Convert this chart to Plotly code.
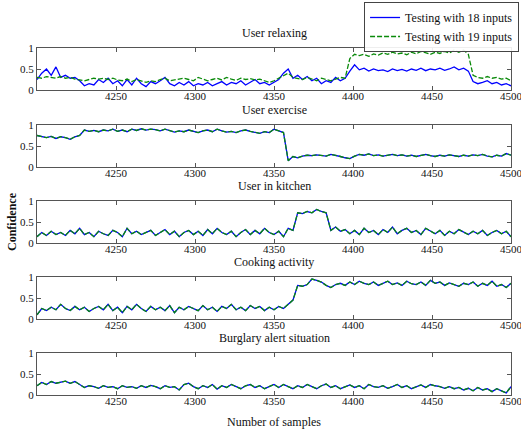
import plotly.graph_objects as go

# sample index (every 3rd sample)
samples = list(range(4200, 4501, 3))

panel_titles = ["User relaxing", "User exercise", "User in kitchen",
                "Cooking activity", "Burglary alert situation"]
x_ticks = [4250, 4300, 4350, 4400, 4450, 4500]
y_ticks = [0, 0.5, 1]
y_tick_text = ["0", "0.5", "1"]

relax_18 = [0.25, 0.40, 0.50, 0.35, 0.55, 0.30, 0.35, 0.28, 0.30, 0.22,
            0.10, 0.15, 0.12, 0.25, 0.18, 0.28, 0.15, 0.22, 0.10, 0.25,
            0.12, 0.28, 0.15, 0.08, 0.20, 0.15, 0.22, 0.30, 0.15, 0.10,
            0.18, 0.12, 0.20, 0.10, 0.15, 0.12, 0.18, 0.10, 0.15, 0.20,
            0.12, 0.18, 0.15, 0.22, 0.12, 0.18, 0.25, 0.15, 0.18, 0.12,
            0.18, 0.25, 0.40, 0.50, 0.28, 0.35, 0.25, 0.32, 0.22, 0.28,
            0.15, 0.22, 0.18, 0.30, 0.22, 0.28, 0.45, 0.60, 0.48, 0.52,
            0.45, 0.50, 0.46, 0.48, 0.44, 0.50, 0.46, 0.49, 0.45, 0.50,
            0.47, 0.52, 0.46, 0.50, 0.48, 0.52, 0.47, 0.50, 0.55, 0.48,
            0.52, 0.45, 0.20, 0.15, 0.18, 0.22, 0.15, 0.18, 0.12, 0.15,
            0.10]
relax_19 = [0.30, 0.28, 0.32, 0.30, 0.28, 0.32, 0.28, 0.30, 0.26, 0.24,
            0.22, 0.25, 0.28, 0.26, 0.28, 0.25, 0.28, 0.24, 0.22, 0.26,
            0.20, 0.25, 0.22, 0.18, 0.22, 0.20, 0.25, 0.28, 0.22, 0.24,
            0.26, 0.28, 0.25, 0.22, 0.30, 0.26, 0.22, 0.25, 0.28, 0.24,
            0.30, 0.26, 0.23, 0.28, 0.25, 0.27, 0.24, 0.26, 0.22, 0.18,
            0.22, 0.28, 0.35, 0.40, 0.30, 0.28, 0.25, 0.30, 0.26, 0.22,
            0.28, 0.25, 0.22, 0.26, 0.30, 0.28, 0.75, 0.85, 0.82, 0.85,
            0.80, 0.86, 0.83, 0.88, 0.85, 0.90, 0.86, 0.88, 0.84, 0.90,
            0.86, 0.92, 0.88, 0.85, 0.90, 0.87, 0.92, 0.88, 0.95, 0.90,
            0.95, 0.85, 0.35, 0.30, 0.28, 0.32, 0.28, 0.30, 0.26, 0.28,
            0.22]
exercise_vals = [0.75, 0.72, 0.70, 0.73, 0.68, 0.72, 0.70, 0.66, 0.72, 0.75,
                 0.88, 0.85, 0.87, 0.84, 0.88, 0.86, 0.90, 0.85, 0.88, 0.84,
                 0.90, 0.87, 0.91, 0.88, 0.90, 0.89, 0.86, 0.90, 0.87, 0.83,
                 0.86, 0.84, 0.88, 0.85, 0.82, 0.86, 0.88, 0.84, 0.90, 0.86,
                 0.83, 0.85, 0.82, 0.86, 0.88, 0.85, 0.82, 0.80, 0.84, 0.82,
                 0.90, 0.86, 0.82, 0.15, 0.25, 0.22, 0.26, 0.28, 0.27, 0.29,
                 0.28, 0.26, 0.30, 0.28, 0.25, 0.22, 0.20, 0.26, 0.30, 0.28,
                 0.31, 0.27, 0.29, 0.26, 0.28, 0.30, 0.27, 0.29, 0.26, 0.28,
                 0.25, 0.28, 0.30, 0.27, 0.25, 0.28, 0.26, 0.29, 0.27, 0.25,
                 0.28, 0.26, 0.29, 0.27, 0.30, 0.26, 0.24, 0.28, 0.26, 0.32,
                 0.28]
kitchen_vals = [0.15, 0.25, 0.18, 0.28, 0.20, 0.25, 0.18, 0.30, 0.22, 0.35,
                0.20, 0.25, 0.15, 0.28, 0.22, 0.18, 0.30, 0.25, 0.15, 0.35,
                0.22, 0.28, 0.20, 0.25, 0.30, 0.18, 0.25, 0.32, 0.20, 0.28,
                0.15, 0.25, 0.30, 0.20, 0.28, 0.18, 0.32, 0.22, 0.35, 0.25,
                0.20, 0.28, 0.15, 0.25, 0.32, 0.20, 0.30, 0.22, 0.35, 0.25,
                0.20, 0.28, 0.15, 0.35, 0.30, 0.72, 0.70, 0.75, 0.72, 0.80,
                0.75, 0.72, 0.30, 0.38, 0.28, 0.32, 0.22, 0.30, 0.20, 0.35,
                0.25, 0.30, 0.20, 0.32, 0.25, 0.38, 0.22, 0.30, 0.35, 0.25,
                0.30, 0.20, 0.35, 0.28, 0.22, 0.30, 0.18, 0.28, 0.22, 0.32,
                0.25, 0.20, 0.28, 0.22, 0.30, 0.18, 0.25, 0.30, 0.22, 0.28,
                0.15]
cooking_vals = [0.10, 0.25, 0.20, 0.28, 0.22, 0.35, 0.25, 0.20, 0.30, 0.22,
                0.28, 0.18, 0.25, 0.30, 0.22, 0.35, 0.20, 0.28, 0.15, 0.30,
                0.22, 0.35, 0.25, 0.18, 0.30, 0.22, 0.28, 0.20, 0.32, 0.15,
                0.28, 0.22, 0.30, 0.25, 0.20, 0.32, 0.22, 0.28, 0.18, 0.30,
                0.25, 0.35, 0.22, 0.28, 0.20, 0.32, 0.25, 0.30, 0.20, 0.28,
                0.22, 0.30, 0.25, 0.35, 0.45, 0.80, 0.78, 0.82, 0.95, 0.92,
                0.88, 0.80, 0.75, 0.82, 0.85, 0.80, 0.88, 0.82, 0.90, 0.85,
                0.82, 0.88, 0.80, 0.85, 0.90, 0.82, 0.86, 0.80, 0.90, 0.84,
                0.82, 0.88, 0.80, 0.92, 0.85, 0.88, 0.80, 0.86, 0.82, 0.78,
                0.85, 0.82, 0.88, 0.78, 0.85, 0.80, 0.90, 0.78, 0.82, 0.75,
                0.85]
burglary_vals = [0.22, 0.30, 0.25, 0.32, 0.28, 0.30, 0.33, 0.28, 0.32, 0.25,
                 0.18, 0.22, 0.20, 0.16, 0.22, 0.18, 0.20, 0.15, 0.22, 0.18,
                 0.20, 0.16, 0.22, 0.18, 0.23, 0.20, 0.15, 0.22, 0.18, 0.20,
                 0.12, 0.25, 0.28, 0.20, 0.15, 0.22, 0.18, 0.25, 0.14, 0.22,
                 0.18, 0.25, 0.20, 0.15, 0.22, 0.25, 0.18, 0.22, 0.15, 0.20,
                 0.25, 0.18, 0.25, 0.20, 0.15, 0.22, 0.18, 0.25, 0.20, 0.15,
                 0.22, 0.26, 0.18, 0.22, 0.15, 0.20, 0.24, 0.18, 0.22, 0.15,
                 0.25, 0.20, 0.18, 0.22, 0.16, 0.20, 0.25, 0.18, 0.22, 0.15,
                 0.20, 0.24, 0.18, 0.25, 0.22, 0.20, 0.16, 0.20, 0.15, 0.18,
                 0.12, 0.16, 0.10, 0.18, 0.12, 0.15, 0.08, 0.15, 0.10, 0.05,
                 0.20]

series_18 = [relax_18, exercise_vals, kitchen_vals, cooking_vals, burglary_vals]
series_19 = [relax_19, exercise_vals, kitchen_vals, cooking_vals, burglary_vals]

W, H = 521, 429
M_T, M_B, M_L, M_R = 48, 34, 37, 10
plot_h = H - M_T - M_B
panel_tops = [48, 125, 201, 277, 353]
panel_bottoms = [90, 167, 243, 319, 395]

FONT = "Liberation Serif"
BLUE = "#0000ff"
GREEN = "#0a8a0a"
AXC = "#555555"
TXT = "#111111"

fig = go.Figure()
annotations = []
for k in range(5):
    n = k + 1
    xa = "x" if n == 1 else f"x{n}"
    ya = "y" if n == 1 else f"y{n}"
    fig.add_trace(go.Scatter(x=samples, y=series_18[k], mode="lines",
                             line=dict(color=BLUE, width=1.3),
                             name="Testing with 18 inputs", showlegend=(k == 0),
                             xaxis=xa, yaxis=ya))
    fig.add_trace(go.Scatter(x=samples, y=series_19[k], mode="lines",
                             line=dict(color=GREEN, width=1.3, dash="5px,2px"),
                             name="Testing with 19 inputs", showlegend=(k == 0),
                             xaxis=xa, yaxis=ya))
    d0 = (H - M_B - panel_bottoms[k]) / plot_h
    d1 = (H - M_B - panel_tops[k]) / plot_h
    axis_common = dict(showline=True, linecolor=AXC, linewidth=1, mirror="ticks",
                       ticks="inside", ticklen=4, tickcolor=AXC, showgrid=False,
                       zeroline=False, ticklabeloverflow="allow",
                       tickfont=dict(family=FONT, size=11, color=TXT))
    fig.layout[f"xaxis{'' if n == 1 else n}"] = dict(
        domain=[0, 1], range=[4200, 4500], anchor=ya, ticklabelstandoff=-4,
        tickvals=x_ticks, ticktext=[str(v) for v in x_ticks], **axis_common)
    fig.layout[f"yaxis{'' if n == 1 else n}"] = dict(
        domain=[d0, d1], range=[0, 1], anchor=xa,
        tickvals=y_ticks, ticktext=y_tick_text, **axis_common)
    annotations.append(dict(text=panel_titles[k], x=0.5, xref="paper",
                            y=d1, yref="paper", yanchor="bottom", yshift=6,
                            showarrow=False,
                            font=dict(family=FONT, size=12, color=TXT)))

annotations.append(dict(text="<b>Confidence</b>", x=0, xref="paper",
                        xanchor="center", xshift=-25, textangle=-90,
                        y=(H - M_B - 222) / plot_h, yref="paper",
                        showarrow=False, font=dict(family=FONT, size=12, color=TXT)))
annotations.append(dict(text="Number of samples", x=0.5, xref="paper",
                        y=0, yref="paper", yanchor="top", yshift=-18,
                        showarrow=False, font=dict(family=FONT, size=12, color=TXT)))

fig.update_layout(
    width=W, height=H,
    margin=dict(t=M_T, b=M_B, l=M_L, r=M_R, autoexpand=False),
    paper_bgcolor="white", plot_bgcolor="white",
    annotations=annotations,
    legend=dict(x=1.017, xanchor="right", y=1 + 46 / plot_h, yanchor="top",
                bgcolor="rgba(255,255,255,0.9)", bordercolor="#444", borderwidth=1,
                font=dict(family=FONT, size=12, color=TXT),
                itemwidth=30, tracegroupgap=0),
)

fig.write_html("out.html", config={"displayModeBar": False},
               post_script="document.body.style.margin='0';document.body.style.overflow='hidden';")
